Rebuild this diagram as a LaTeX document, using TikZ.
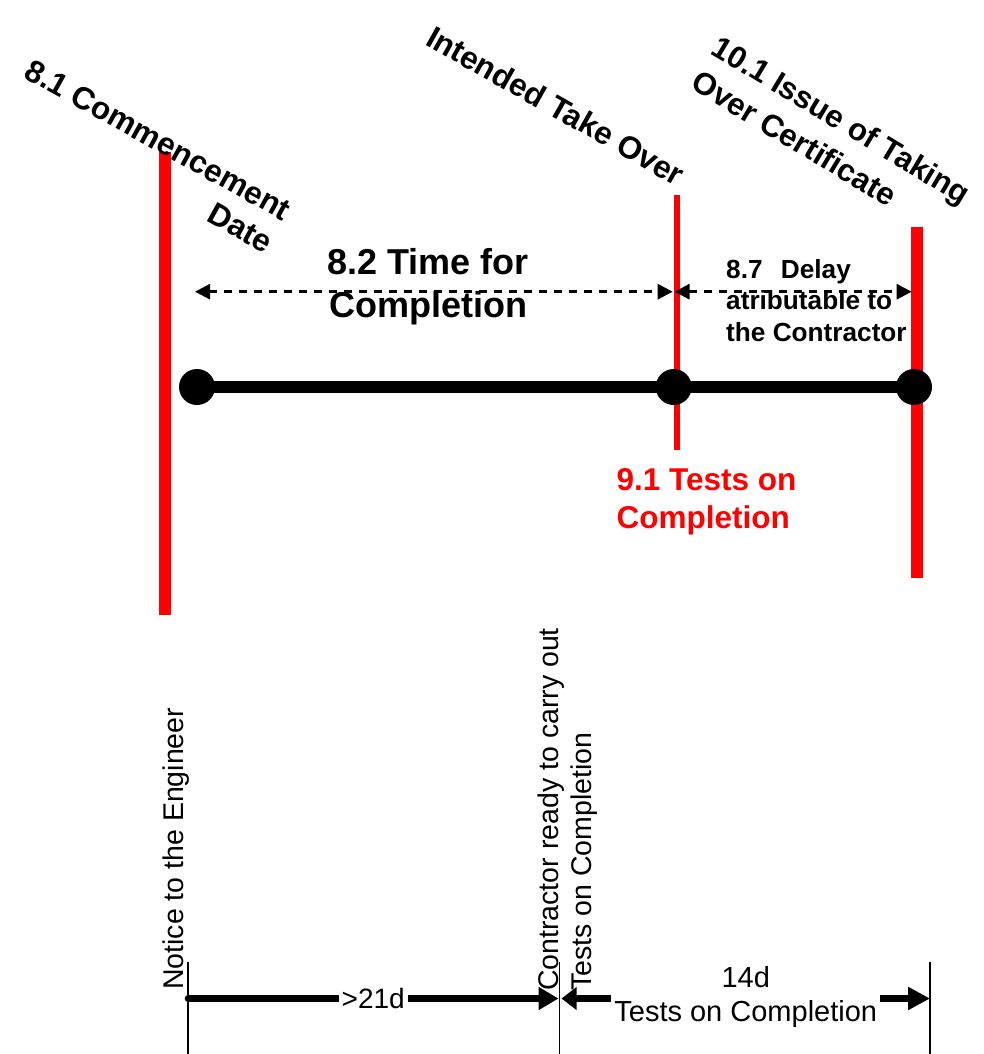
\documentclass[tikz,border=0pt]{standalone}
\usepackage{fontspec}
\setmainfont{Liberation Sans}
\usetikzlibrary{arrows.meta}
\begin{document}
\begin{tikzpicture}[x=1pt,y=-1pt,
  redbar/.style={draw=red, line cap=butt},
  dasharrow/.style={line width=2.7pt, dash pattern=on 8pt off 7pt,
    {Triangle[length=15pt,width=15pt]}-{Triangle[length=15pt,width=15pt]}},
  dot/.style={circle, fill=black, inner sep=0pt, minimum size=36pt},
  timeline/.style={line width=12pt},
  rotlbl/.style={font=\fontsize{31.5}{37}\selectfont\bfseries, inner sep=0pt},
  tick/.style={line width=1.1pt},
  bigarrow/.style={line width=6.7pt},
  botlbl/.style={font=\fontsize{28.5}{33.5}\selectfont, inner sep=0pt},
]
\fill[white] (0,0) rectangle (984,1054);
\useasboundingbox (0,0) rectangle (984,1054);

% red milestone bars
\coordinate (r1t) at (165,151.7); \coordinate (r1b) at (165,615);
\coordinate (r2t) at (677,195);   \coordinate (r2b) at (677,450);
\coordinate (r3t) at (917,227);   \coordinate (r3b) at (917,578.3);
\draw[redbar, line width=11.3pt] (r1t) -- (r1b);
\draw[redbar, line width=6pt] (r2t) -- (r2b);
\draw[redbar, line width=11.7pt] (r3t) -- (r3b);

% dashed duration arrows
\coordinate (da) at (195,291.7);   \coordinate (db) at (672.7,291.7);
\coordinate (dc) at (674.5,291.7); \coordinate (dd) at (911.7,291.7);
\draw[dasharrow] (da) -- (db);
\draw[dasharrow] (dc) -- (dd);

% timeline
\node[dot] (d1) at (197,387) {};
\node[dot] (d2) at (673.7,387) {};
\node[dot] (d3) at (914,387) {};
\draw[timeline] (d1.center) -- (d2.center) -- (d3.center);

% labels
\node[rotlbl, rotate=-29, anchor=north east, align=right] (lc) at (294,202)
  {8.1 Commencement\\Date};
\node[rotlbl, rotate=-29.5, anchor=base west] (li) at (424,44)
  {Intended Take Over};
\node[rotlbl, font=\fontsize{31.2}{40}\selectfont\bfseries, rotate=-31, anchor=north west, align=left] (lt) at (721.4,34)
  {10.1 Issue of Taking\\Over Certificate};
\node[font=\fontsize{36}{43}\selectfont\bfseries, inner sep=0pt, anchor=north, align=center] (l82) at (428,248.5)
  {8.2 Time for\\Completion};
\node[font=\fontsize{26.2}{31.5}\selectfont\bfseries, inner sep=0pt, anchor=north west, align=left] (l87) at (726,258.9)
  {8.7\hspace{0.7em}Delay\\atributable to\\the Contractor};
\node[font=\fontsize{31.5}{37.5}\selectfont\bfseries, text=red, inner sep=0pt, anchor=north west, align=left] (l91) at (616.5,468.7)
  {9.1 Tests on\\Completion};

% bottom procedure
\coordinate (v1t) at (188,962);   \coordinate (v1b) at (188,1054);
\coordinate (v2t) at (559.3,962); \coordinate (v2b) at (559.3,1054);
\coordinate (v3t) at (930,962);   \coordinate (v3b) at (930,1054);
\draw[tick] (v1t) -- (v1b);
\draw[tick] (v2t) -- (v2b);
\draw[tick] (v3t) -- (v3b);

\node[botlbl, rotate=90, anchor=base west] (ln) at (183.5,990) {Notice to the Engineer};
\node[botlbl, rotate=90, anchor=north west, align=left] (lr) at (537.5,991)
  {Contractor ready to carry out\\Tests on Completion};

\coordinate (b1) at (188,998.5);  \coordinate (b2) at (558.5,998.5);
\coordinate (b3) at (561.5,998.5); \coordinate (b4) at (930,998.5);
\draw[bigarrow, line cap=round, -{Triangle[length=20pt,width=22pt]}] (b1) -- 
  node[botlbl, fill=white, inner xsep=3pt, inner ysep=1pt, font=\fontsize{28}{33}\selectfont] (l21) {>21d} (b2);
\draw[bigarrow, {Triangle[length=15pt,width=22pt]}-{Triangle[length=22pt,width=22pt]}] (b3) --
  node[botlbl, fill=white, inner xsep=3pt, inner ysep=0pt, align=center, font=\fontsize{29}{34}\selectfont, yshift=1.5pt] (l14) {14d\\Tests on Completion} (b4);
\end{tikzpicture}
\end{document}
